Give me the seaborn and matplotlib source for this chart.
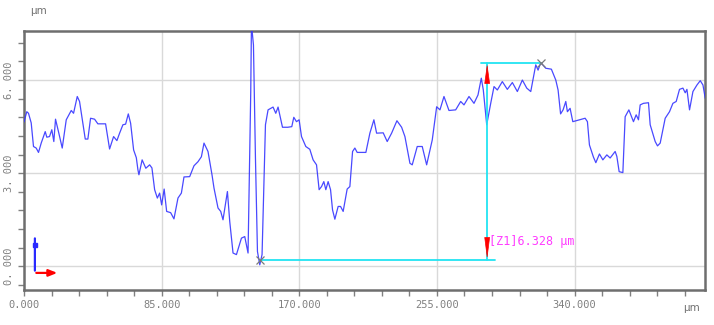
import numpy as np
import pandas as pd
import matplotlib
matplotlib.use("Agg")
import matplotlib.pyplot as plt
import seaborn as sns
from matplotlib.ticker import MultipleLocator, FuncFormatter

# profile position (um) and height (um)
pos_um = [0.0, 1.73, 2.78, 4.45, 5.87, 7.54, 8.96, 10.63, 13.11, 14.09, 15.76, 17.19,
          18.42, 19.47, 21.51, 23.61, 26.09, 29.18, 30.60, 32.89, 34.31, 35.73, 37.83,
          39.44, 41.11, 43.58, 45.62, 50.38, 52.85, 55.33, 57.37, 59.04, 61.08, 62.75,
          64.41, 65.84, 67.69, 69.36, 70.35, 70.97, 72.95, 75.23, 77.58, 79.00, 80.67,
          82.34, 83.76, 85.00, 86.55, 88.09, 90.56, 92.60, 95.08, 97.18, 98.79, 102.31,
          104.97, 107.44, 109.54, 111.15, 113.62, 116.09, 117.33, 119.80, 121.47, 122.89,
          125.61, 127.04, 129.08, 131.18, 134.27, 136.31, 138.35, 140.02, 140.45, 141.69,
          142.92, 144.16, 145.58, 147.00, 149.10, 150.71, 153.80, 155.47, 156.89, 159.61,
          162.89, 165.36, 166.60, 168.27, 169.88, 171.36, 174.02, 176.49, 178.53, 180.63,
          182.24, 183.72, 185.14, 186.38, 187.80, 189.29, 190.52, 191.95, 193.99, 195.47,
          197.08, 199.55, 201.22, 202.89, 204.31, 205.73, 211.11, 213.58, 216.06, 217.73,
          221.81, 224.28, 227.00, 230.28, 233.18, 235.22, 238.31, 239.73, 242.82, 245.91,
          248.63, 252.09, 254.81, 256.85, 259.33, 262.42, 266.56, 269.65, 271.69, 274.78,
          277.87, 280.34, 282.38, 283.62, 285.72, 288.19, 290.23, 292.27, 295.36, 298.45,
          301.55, 304.64, 307.73, 310.45, 312.92, 316.01, 317.43, 319.10, 322.19, 325.65,
          328.37, 329.79, 331.34, 332.88, 334.55, 335.54, 337.21, 338.88, 346.49, 347.91,
          349.15, 351.62, 353.10, 355.33, 357.43, 359.90, 361.94, 365.03, 366.08, 367.50,
          369.79, 371.21, 373.50, 376.34, 378.01, 379.43, 380.48, 382.52, 385.61, 386.66,
          389.75, 391.18, 392.84, 395.93, 398.59, 400.69, 402.73, 404.77, 406.88, 408.30,
          409.35, 410.96, 413.06, 415.54, 417.58, 419.25, 420.67]
height_um = [4.65, 4.98, 4.93, 4.62, 3.86, 3.81, 3.67, 3.97, 4.34, 4.16, 4.18, 4.40,
             4.02, 4.74, 4.29, 3.81, 4.72, 5.02, 4.93, 5.47, 5.31, 4.82, 4.10,
             4.10, 4.77, 4.74, 4.59, 4.59, 3.78, 4.18, 4.05, 4.29, 4.56, 4.58,
             4.91, 4.61, 3.75, 3.50, 3.11, 2.95, 3.43, 3.16, 3.27, 3.17, 2.47,
             2.20, 2.36, 1.98, 2.49, 1.77, 1.73, 1.53, 2.20, 2.36, 2.88, 2.89,
             3.24, 3.37, 3.53, 3.97, 3.70, 2.95, 2.52, 1.88, 1.77, 1.50,
             2.41, 1.45, 0.43, 0.38, 0.91, 0.96, 0.43, 5.63, 7.80, 7.13,
             3.49, 0.48, 0.05, 0.38, 4.56, 5.04, 5.13, 4.93, 5.13, 4.48,
             4.48, 4.50, 4.80, 4.66, 4.72, 4.18, 3.86, 3.77, 3.43, 3.27,
             2.47, 2.57, 2.73, 2.47, 2.73, 2.47, 1.82, 1.52, 1.93, 1.93,
             1.77, 2.49, 2.57, 3.70, 3.81, 3.67, 3.67, 4.29, 4.72, 4.29,
             4.30, 4.02, 4.29, 4.69, 4.48, 4.18, 3.32, 3.27, 3.86, 3.86,
             3.27, 4.07, 5.14, 5.04, 5.47, 5.02, 5.04, 5.31, 5.20, 5.47,
             5.25, 5.52, 6.06, 5.68, 4.56, 5.25, 5.79, 5.68, 5.95, 5.70,
             5.92, 5.63, 6.00, 5.74, 5.63, 6.49, 6.32, 6.56, 6.38, 6.35,
             6.00, 5.68, 4.91, 5.04, 5.31, 4.98, 5.09, 4.66, 4.77, 4.66,
             3.91, 3.52, 3.34, 3.62, 3.43, 3.59, 3.49, 3.70, 3.54, 3.05,
             3.02, 4.82, 5.04, 4.66, 4.88, 4.72, 5.20, 5.25, 5.27, 4.56,
             4.02, 3.88, 3.97, 4.77, 4.98, 5.25, 5.31, 5.70, 5.74, 5.59,
             5.70, 5.04, 5.63, 5.84, 5.98, 5.84, 5.41]

z1_x = 286.0
z1_low, z1_high = 0.22, 6.55
low_pt = (145.6, 0.22)
high_pt = (319.1, 6.55)
z1_label = "[Z1]6.328 μm"

df = pd.DataFrame({"pos": pos_um, "h": height_um})

sns.set_style("white")
plt.rcParams["font.family"] = ["DejaVu Sans Mono", "DejaVu Sans"]

fig = plt.figure(figsize=(7.14, 3.25), dpi=100)
ax = fig.add_axes([0.0336, 0.1077, 0.954, 0.797])

sns.lineplot(data=df, x="pos", y="h", sort=False, estimator=None,
             color="#3535ff", lw=0.9, alpha=0.9, ax=ax, zorder=3)

ax.set_xlim(0, 420.6)
ax.set_ylim(-0.76, 7.58)

ax.xaxis.set_major_locator(MultipleLocator(85))
ax.xaxis.set_minor_locator(MultipleLocator(17))
ax.yaxis.set_major_locator(MultipleLocator(3))
ax.yaxis.set_minor_locator(MultipleLocator(0.6))
ax.xaxis.set_major_formatter(FuncFormatter(lambda v, p: f"{v:.3f}"))
ax.yaxis.set_major_formatter(FuncFormatter(lambda v, p: f"{v:.3f}".replace(".", ". ")))

ax.grid(True, which="major", color="#d9d9d9", lw=1)
ax.tick_params(which="both", direction="out", color="#808080", length=4, width=1,
               labelcolor="#808080", labelsize=7.5, bottom=True, left=True)
ax.tick_params(axis="x", pad=3)
ax.tick_params(axis="y", pad=3)
for lbl in ax.get_yticklabels():
    lbl.set_rotation(90)
    lbl.set_va("center")

for side in ["left", "right", "top", "bottom"]:
    ax.spines[side].set_color("#6e6e6e")
    ax.spines[side].set_linewidth(1.8)

ax.set_xlabel("")
ax.set_ylabel("")

# cyan measurement lines
cyan = "#22e4f2"
ax.plot([z1_x, z1_x], [z1_low, z1_high], color=cyan, lw=1.3, zorder=4)
ax.plot([low_pt[0], z1_x + 5], [z1_low, z1_low], color=cyan, lw=1.3, zorder=4)
ax.plot([z1_x - 4, high_pt[0]], [z1_high, z1_high], color=cyan, lw=1.3, zorder=4)

# red wedge arrows
ax.annotate("", xy=(z1_x, z1_high), xytext=(z1_x, z1_high - 0.75),
            arrowprops=dict(arrowstyle="wedge,tail_width=0.35", color="red", lw=0.5),
            zorder=5)
ax.annotate("", xy=(z1_x, z1_low), xytext=(z1_x, z1_low + 0.8),
            arrowprops=dict(arrowstyle="wedge,tail_width=0.35", color="red", lw=0.5),
            zorder=5)

# cross markers at min / max
ax.plot([low_pt[0], high_pt[0]], [low_pt[1], high_pt[1]], ls="none", marker="x",
        ms=6, mew=0.9, color="#7a7a7a", zorder=6)

ax.text(z1_x + 1.2, 0.8, z1_label, color="#ff3cff", fontsize=8.5, va="center",
        ha="left", zorder=6)

# small axis indicator at bottom-left
ax.annotate("", xy=(0.016, 0.21), xytext=(0.016, 0.064), xycoords="axes fraction",
            arrowprops=dict(arrowstyle="-", color="#2a2aff", lw=1.6))
ax.plot([0.016], [0.175], marker="s", ms=3, color="#2a2aff", transform=ax.transAxes,
        clip_on=False)
ax.annotate("", xy=(0.053, 0.066), xytext=(0.014, 0.066), xycoords="axes fraction",
            arrowprops=dict(arrowstyle="-|>,head_length=0.5,head_width=0.2",
                            color="red", lw=1.6))

# unit labels
fig.text(30 / 714, 1 - 11 / 325, "μm", color="#707070", fontsize=7.5,
         family="DejaVu Sans", ha="left", va="center")
fig.text(692 / 714, 1 - 308 / 325, "μm", color="#707070", fontsize=7.5,
         family="DejaVu Sans", ha="center", va="center")

fig.savefig("out.png", dpi=100)
